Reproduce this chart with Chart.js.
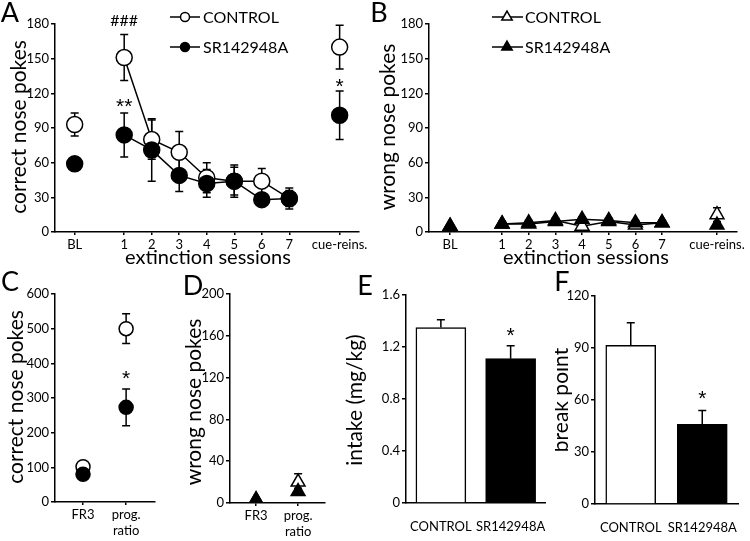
<!DOCTYPE html>
<html>
<head>
  <meta charset="utf-8">
  <title>SR142948A nose pokes</title>
  <script src="https://cdn.jsdelivr.net/npm/chart.js"></script>
  <style>
    body { margin: 0; background: white; }
    #wrap { position: relative; width: 750px; height: 541px; overflow: hidden; background: white; }
    canvas { position: absolute; }
  </style>
</head>
<body>
<div id="wrap">
  <canvas id="cA" style="left:0px;top:0px" width="370" height="270"></canvas>
  <canvas id="cB" style="left:370px;top:0px" width="380" height="270"></canvas>
  <canvas id="cC" style="left:0px;top:270px" width="180" height="271"></canvas>
  <canvas id="cD" style="left:180px;top:270px" width="180" height="271"></canvas>
  <canvas id="cE" style="left:345px;top:270px" width="210" height="271"></canvas>
  <canvas id="cF" style="left:555px;top:270px" width="195" height="271"></canvas>
</div>

<script>
// ---- data ----
const groups = ['CONTROL', 'SR142948A'];

const sessions = ['BL', '1', '2', '3', '4', '5', '6', '7', 'cue-reins.'];
const sessionPosA = [-0.8, 1, 2, 3, 4, 5, 6, 7, 8.83];
const sessionPosB = [-0.95, 1, 2, 3, 4, 5, 6, 7, 9.06];

const ctrlCorrect    = [93, 151, 80, 69, 47, 44, 44, 29, 160];
const ctrlCorrectErr = [10, 20, 17, 18, 13, 12, 11, 7, 19];
const srCorrect      = [59, 84, 71, 49, 42, 44, 28, 29, 101];
const srCorrectErr   = [3, 19, 27, 14, 12, 14, 5, 9, 21];

const ctrlWrong    = [5, 7, 8, 10, 5, 9, 6, 8, 15];
const ctrlWrongErr = [1, 2, 2, 2, 2, 2, 2, 2, 6];
const srWrong      = [5, 7, 7, 9, 11, 10, 8, 8, 6];
const srWrongErr   = [1, 2, 2, 2, 2, 2, 2, 2, 2];

const schedules = [['FR3'], ['prog.', 'ratio']];
const schedulePos = [1, 2];
const ctrlSchedCorrect    = [102, 500];
const ctrlSchedCorrectErr = [3, 43];
const srSchedCorrect      = [80, 273];
const srSchedCorrectErr   = [5, 53];
const ctrlSchedWrong    = [3, 20];
const ctrlSchedWrongErr = [1, 8];
const srSchedWrong      = [3, 11];
const srSchedWrongErr   = [1, 3];

const intake    = [1.35, 1.11];
const intakeErr = [0.06, 0.10];
const breakPoint    = [91.5, 46];
const breakPointErr = [13, 8];

// ---- styling helpers ----
const FONT = 'Lato, "Open Sans", sans-serif';
const STAR_FONT = '"Liberation Sans", Arial, sans-serif';
const INK = '#000';

function yScale(max, step, width) {
  return {
    min: 0, max: max,
    ticks: { stepSize: step, color: INK, font: { family: FONT, size: 13 }, padding: 2 },
    grid: { display: true, drawOnChartArea: false, drawTicks: true, tickLength: 4, color: INK, lineWidth: 1.5 },
    border: { display: true, color: INK, width: 1.5 },
    afterFit: s => { s.width = width; }
  };
}

function xLinear(min, max, pos, labels, height) {
  return {
    type: 'linear', min: min, max: max,
    afterBuildTicks: s => { s.ticks = pos.map(v => ({ value: v })); },
    ticks: { autoSkip: false, maxRotation: 0, color: INK, font: { family: FONT, size: 13 }, padding: 2,
             callback: (v, i) => labels[i] },
    grid: { display: true, drawOnChartArea: false, drawTicks: true, tickLength: 3, color: INK, lineWidth: 1.5 },
    border: { display: true, color: INK, width: 1.5 },
    afterFit: s => { s.height = height; }
  };
}

function xCategory(height) {
  return {
    ticks: { autoSkip: false, maxRotation: 0, minRotation: 0, color: INK, font: { family: FONT, size: 13 }, padding: 8 },
    grid: { display: false },
    border: { display: true, color: INK, width: 1.5 },
    afterFit: s => { s.height = height; }
  };
}

function pts(pos, vals) {
  return pos.map((x, i) => ({ x: x, y: vals[i] }));
}

// only sessions 1..7 are joined by a line
const joinSessions = c => (c.p0DataIndex === 0 || c.p1DataIndex === sessions.length - 1) ? 'rgba(0,0,0,0)' : INK;

function series(label, data, errors, fill, style, radius, joined) {
  return {
    label: label, data: data, errors: errors,
    showLine: joined, borderColor: INK, borderWidth: 1.5,
    pointStyle: style, pointRadius: radius, pointHoverRadius: radius,
    pointBackgroundColor: fill, pointBorderColor: INK, pointBorderWidth: 1.5,
    segment: joined ? { borderColor: joinSessions } : undefined
  };
}

// ---- plugins ----
function drawErrors(chart, after) {
  const ctx = chart.ctx;
  const ys = chart.scales.y;
  chart.data.datasets.forEach((ds, di) => {
    if (!ds.errors || !!ds.upOnly !== after) return;
    const meta = chart.getDatasetMeta(di);
    meta.data.forEach((el, i) => {
      const v = meta.controller.getParsed(i).y;
      const e = ds.errors[i];
      const top = ys.getPixelForValue(v + e);
      const bot = ds.upOnly ? el.y : ys.getPixelForValue(v - e);
      const cap = 4;
      ctx.save();
      ctx.strokeStyle = INK;
      ctx.lineWidth = 1.5;
      ctx.beginPath();
      ctx.moveTo(el.x, top); ctx.lineTo(el.x, bot);
      ctx.moveTo(el.x - cap, top); ctx.lineTo(el.x + cap, top);
      if (!ds.upOnly) { ctx.moveTo(el.x - cap, bot); ctx.lineTo(el.x + cap, bot); }
      ctx.stroke();
      ctx.restore();
    });
  });
}

const errorBars = {
  id: 'errorBars',
  beforeDatasetsDraw(chart) { drawErrors(chart, false); },
  afterDatasetsDraw(chart) { drawErrors(chart, true); }
};

function marker(ctx, style, x, y, r, fill) {
  ctx.beginPath();
  if (style === 'triangle') {
    for (let k = 0; k < 3; k++) {
      const a = k * 2 * Math.PI / 3;
      const px = x + Math.sin(a) * r, py = y - Math.cos(a) * r;
      if (k === 0) ctx.moveTo(px, py); else ctx.lineTo(px, py);
    }
    ctx.closePath();
  } else {
    ctx.arc(x, y, r, 0, Math.PI * 2);
  }
  ctx.fillStyle = fill;
  ctx.fill();
  ctx.lineWidth = 1.5;
  ctx.strokeStyle = INK;
  ctx.stroke();
}

const annotate = {
  id: 'annotate',
  afterDraw(chart, args, opts) {
    const ctx = chart.ctx;
    const ox = opts.ox || 0, oy = opts.oy || 0;
    ctx.save();
    ctx.fillStyle = INK;
    ctx.textAlign = 'center';
    ctx.textBaseline = 'middle';
    (opts.texts || []).forEach(t => {
      ctx.save();
      ctx.translate(t.x - ox, t.y - oy);
      if (t.rot) ctx.rotate(-Math.PI / 2);
      ctx.font = t.size + 'px ' + FONT;
      ctx.fillStyle = INK;
      ctx.fillText(t.text, 0, 0);
      ctx.restore();
    });
    (opts.stars || []).forEach(s => {
      const px = chart.scales.x.getPixelForValue(s.x);
      const py = chart.scales.y.getPixelForValue(s.y);
      const isStar = /^\*+$/.test(s.text);
      ctx.font = s.size + 'px ' + (isStar ? STAR_FONT : FONT);
      const shift = isStar ? s.size * 0.28 : 0;
      ctx.fillStyle = INK;
      ctx.fillText(s.text, px, py + shift);
    });
    (opts.legend || []).forEach(l => {
      const ds = chart.data.datasets[l.ds];
      const y = l.y - oy;
      ctx.strokeStyle = INK;
      ctx.lineWidth = 1.5;
      ctx.beginPath();
      ctx.moveTo(l.x0 - ox, y); ctx.lineTo(l.x1 - ox, y);
      ctx.stroke();
      marker(ctx, ds.pointStyle, l.mx - ox, y, l.r, ds.pointBackgroundColor);
      ctx.fillStyle = INK;
      ctx.textAlign = 'left';
      ctx.font = '16px ' + FONT;
      ctx.fillText(ds.label, l.tx - ox, y + 1);
      ctx.textAlign = 'center';
    });
    ctx.restore();
  }
};

Chart.register(errorBars, annotate);
Chart.defaults.animation = false;
Chart.defaults.responsive = false;
Chart.defaults.plugins.legend.display = false;
Chart.defaults.plugins.tooltip.enabled = false;

// ---- A: correct nose pokes, extinction ----
new Chart(document.getElementById('cA'), {
  type: 'line',
  data: { datasets: [
    series(groups[1], pts(sessionPosA, srCorrect), srCorrectErr, INK, 'circle', 8, true),
    series(groups[0], pts(sessionPosA, ctrlCorrect), ctrlCorrectErr, '#fff', 'circle', 8, true)
  ] },
  options: {
    layout: { padding: { top: 24, right: 8, left: 0, bottom: 0 } },
    scales: { x: xLinear(-1.515, 9.515, sessionPosA, sessions, 38), y: yScale(180, 30, 55) },
    plugins: { annotate: {
      texts: [
        { text: 'A', x: 10, y: 13, size: 27 },
        { text: 'correct nose pokes', x: 19, y: 127, size: 21, rot: true },
        { text: 'extinction sessions', x: 208, y: 258, size: 20 }
      ],
      stars: [
        { text: '###', x: 1, y: 183, size: 16 },
        { text: '**', x: 1, y: 113, size: 21 },
        { text: '*', x: sessionPosA[8], y: 130, size: 21 }
      ],
      legend: [
        { ds: 1, y: 17, x0: 170, x1: 200, mx: 185, r: 4.5, tx: 203 },
        { ds: 0, y: 47, x0: 170, x1: 200, mx: 185, r: 4.5, tx: 203 }
      ]
    } }
  }
});

// ---- B: wrong nose pokes, extinction ----
new Chart(document.getElementById('cB'), {
  type: 'line',
  data: { datasets: [
    series(groups[1], pts(sessionPosB, srWrong), srWrongErr, INK, 'triangle', 8, true),
    series(groups[0], pts(sessionPosB, ctrlWrong), ctrlWrongErr, '#fff', 'triangle', 8, true)
  ] },
  options: {
    layout: { padding: { top: 24, right: 13, left: 0, bottom: 0 } },
    scales: { x: xLinear(-1.74, 9.81, sessionPosB, sessions, 38), y: yScale(180, 30, 59) },
    plugins: { annotate: {
      ox: 370, oy: 0,
      texts: [
        { text: 'B', x: 379, y: 13, size: 27 },
        { text: 'wrong nose pokes', x: 388, y: 127, size: 21, rot: true },
        { text: 'extinction sessions', x: 586, y: 258, size: 20 }
      ],
      legend: [
        { ds: 1, y: 17, x0: 492, x1: 523, mx: 507, r: 6, tx: 525 },
        { ds: 0, y: 47, x0: 492, x1: 523, mx: 507, r: 6, tx: 525 }
      ]
    } }
  }
});

// ---- C: correct nose pokes, FR3 vs progressive ratio ----
new Chart(document.getElementById('cC'), {
  type: 'line',
  data: { datasets: [
    series(groups[1], pts(schedulePos, srSchedCorrect), srSchedCorrectErr, INK, 'circle', 7, false),
    series(groups[0], pts(schedulePos, ctrlSchedCorrect), ctrlSchedCorrectErr, '#fff', 'circle', 7, false)
  ] },
  options: {
    layout: { padding: { top: 24, right: 25, left: 0, bottom: 0 } },
    scales: { x: xLinear(0.35, 2.67, schedulePos, schedules, 39), y: yScale(600, 100, 55) },
    plugins: { annotate: {
      ox: 0, oy: 270,
      texts: [
        { text: 'C', x: 10, y: 282, size: 27 },
        { text: 'correct nose pokes', x: 16, y: 397, size: 21, rot: true }
      ],
      stars: [ { text: '*', x: 2, y: 371, size: 21 } ]
    } }
  }
});

// ---- D: wrong nose pokes, FR3 vs progressive ratio ----
new Chart(document.getElementById('cD'), {
  type: 'line',
  data: { datasets: [
    series(groups[1], pts(schedulePos, srSchedWrong), srSchedWrongErr, INK, 'triangle', 8, false),
    series(groups[0], pts(schedulePos, ctrlSchedWrong), ctrlSchedWrongErr, '#fff', 'triangle', 8, false)
  ] },
  options: {
    layout: { padding: { top: 24, right: 35, left: 0, bottom: 0 } },
    scales: { x: xLinear(0.38, 2.64, schedulePos, schedules, 38), y: yScale(200, 40, 50) },
    plugins: { annotate: {
      ox: 180, oy: 270,
      texts: [
        { text: 'D', x: 193, y: 286, size: 27 },
        { text: 'wrong nose pokes', x: 194, y: 402, size: 21, rot: true }
      ]
    } }
  }
});

// ---- E: intake ----
new Chart(document.getElementById('cE'), {
  type: 'bar',
  data: { labels: groups, datasets: [{
    label: 'intake', data: intake, errors: intakeErr, upOnly: true,
    backgroundColor: ['#fff', INK], borderColor: INK, borderWidth: 1.5, barThickness: 50
  }] },
  options: {
    layout: { padding: { top: 25, right: 7, left: 0, bottom: 0 } },
    scales: { x: xCategory(38), y: yScale(1.6, 0.4, 61) },
    plugins: { annotate: {
      ox: 345, oy: 270,
      texts: [
        { text: 'E', x: 365, y: 286, size: 27 },
        { text: 'intake (mg/kg)', x: 355, y: 400, size: 21, rot: true }
      ],
      stars: [ { text: '*', x: 1, y: 1.33, size: 21 } ]
    } }
  }
});

// ---- F: break point ----
new Chart(document.getElementById('cF'), {
  type: 'bar',
  data: { labels: groups, datasets: [{
    label: 'break point', data: breakPoint, errors: breakPointErr, upOnly: true,
    backgroundColor: ['#fff', INK], borderColor: INK, borderWidth: 1.5, barThickness: 50
  }] },
  options: {
    layout: { padding: { top: 26, right: 12, left: 0, bottom: 0 } },
    scales: { x: xCategory(37), y: yScale(120, 30, 40) },
    plugins: { annotate: {
      ox: 555, oy: 270,
      texts: [
        { text: 'F', x: 562, y: 282, size: 27 },
        { text: 'break point', x: 561, y: 400, size: 21, rot: true }
      ],
      stars: [ { text: '*', x: 1, y: 64, size: 21 } ]
    } }
  }
});
</script>
</body>
</html>
